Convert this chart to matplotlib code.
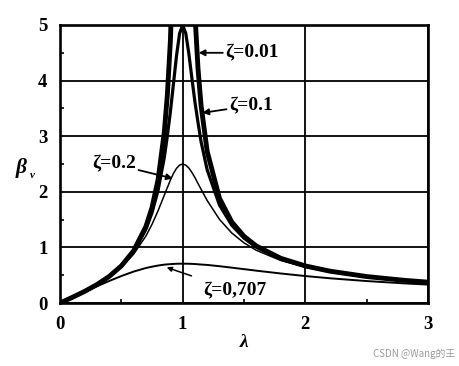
import matplotlib
matplotlib.use("Agg")
import matplotlib.pyplot as plt
from matplotlib.ticker import MultipleLocator

# frequency ratio lambda (sample points)
lam = [0, 0.1, 0.2, 0.3, 0.4, 0.5, 0.6, 0.7, 0.75, 0.8, 0.85, 0.875, 0.9, 0.925,
       0.95, 0.975, 1.0, 1.025, 1.05, 1.075, 1.1, 1.125, 1.15, 1.2, 1.3, 1.4,
       1.5, 1.6, 1.8, 2.0, 2.2, 2.5, 2.8, 3.0]

beta_001 = [0, 0.101, 0.208, 0.330, 0.476, 0.667, 0.938, 1.373, 1.714, 2.222, 3.063,
            3.733, 4.716, 6.355, 9.567, 20.0, 50.0, 20.0, 10.04, 6.843, 5.210, 4.220,
            3.557, 2.727, 1.884, 1.458, 1.200, 1.026, 0.804, 0.667, 0.573, 0.476,
            0.409, 0.375]

beta_01 = [0, 0.101, 0.208, 0.329, 0.474, 0.661, 0.921, 1.324, 1.622, 2.031, 2.612,
           3.000, 3.439, 3.942, 4.448, 4.847, 5.000, 4.854, 4.493, 4.050, 3.617,
           3.250, 2.903, 2.394, 1.763, 1.400, 1.167, 1.005, 0.793, 0.661, 0.569,
           0.474, 0.408, 0.374]

beta_02 = [0, 0.101, 0.208, 0.327, 0.468, 0.644, 0.878, 1.203, 1.414, 1.661, 1.937,
           2.075, 2.211, 2.330, 2.422, 2.480, 2.500, 2.480, 2.429, 2.350, 2.256,
           2.150, 2.047, 1.843, 1.505, 1.260, 1.082, 0.949, 0.765, 0.644, 0.558,
           0.468, 0.404, 0.371]

beta_0707 = [0, 0.100, 0.200, 0.299, 0.395, 0.485, 0.565, 0.629, 0.653, 0.674, 0.690,
             0.695, 0.699, 0.703, 0.706, 0.707, 0.707, 0.707, 0.706, 0.704, 0.701,
             0.697, 0.692, 0.685, 0.662, 0.636, 0.609, 0.582, 0.531, 0.485, 0.445,
             0.395, 0.354, 0.331]

x_ticks = [0, 1, 2, 3]
y_ticks = [0, 1, 2, 3, 4, 5]

serif = ["Liberation Serif", "DejaVu Serif"]

fig = plt.figure(figsize=(4.6, 3.66), dpi=100)
ax = fig.add_axes([0.1304, 0.1721, 0.8, 0.7596])

ax.plot(lam, beta_001, color="black", lw=3.5, solid_joinstyle="round", zorder=5)
ax.plot(lam, beta_01, color="black", lw=2.3, solid_joinstyle="round", zorder=5)
ax.plot(lam, beta_02, color="black", lw=1.1, zorder=5)
ax.plot(lam, beta_0707, color="black", lw=1.4, zorder=5)

ax.set_xlim(0, 3)
ax.set_ylim(0, 5)
ax.set_xticks(x_ticks)
ax.set_yticks(y_ticks)
ax.set_xticklabels([str(v) for v in x_ticks], fontfamily=serif, fontweight="bold", fontsize=13.5)
ax.set_yticklabels([str(v) for v in y_ticks], fontfamily=serif, fontweight="bold", fontsize=13.5)
ax.xaxis.set_minor_locator(MultipleLocator(0.5))
ax.yaxis.set_minor_locator(MultipleLocator(0.5))
ax.tick_params(which="major", length=0, pad=9)
ax.tick_params(which="minor", direction="in", length=3, width=1.2, color="black")

ax.grid(True, which="major", color="black", lw=1.3)
for s in ax.spines.values():
    s.set_linewidth(1.9)
    s.set_zorder(6)

ax.set_xlabel("λ", fontfamily=serif, fontweight="bold", fontstyle="italic",
              fontsize=14, labelpad=1)
ax.text(-0.32, 2.43, "β", fontfamily=serif, fontweight="bold", fontstyle="italic",
        fontsize=15.5, ha="center", va="center")
ax.text(-0.225, 2.30, "v", fontfamily=serif, fontweight="bold", fontstyle="italic",
        fontsize=8, ha="center", va="center")

arrow = dict(arrowstyle="-|>", color="black", lw=1.3, mutation_scale=9,
             shrinkA=0, shrinkB=0)
fs = 14
ax.annotate("ζ=0.01", xy=(1.13, 4.5), xytext=(1.35, 4.5), fontfamily=serif,
            fontweight="bold", fontsize=fs, va="center", ha="left",
            arrowprops=arrow)
ax.annotate("ζ=0.1", xy=(1.16, 3.42), xytext=(1.38, 3.55), fontfamily=serif,
            fontweight="bold", fontsize=fs, va="center", ha="left",
            arrowprops=arrow)
ax.annotate("ζ=0.2", xy=(0.92, 2.24), xytext=(0.26, 2.5), fontfamily=serif,
            fontweight="bold", fontsize=fs, va="center", ha="left",
            arrowprops=arrow)
ax.annotate("ζ=0,707", xy=(0.87, 0.64), xytext=(1.17, 0.22), fontfamily=serif,
            fontweight="bold", fontsize=fs, va="center", ha="left",
            arrowprops=dict(arrowstyle="-|>", color="black", lw=1.1,
                            mutation_scale=7, shrinkA=8, shrinkB=0))

fig.text(0.99, 0.02, "CSDN @Wang的王", fontsize=7, color="#9a9a9a",
         ha="right", va="bottom", family=["Noto Sans CJK SC", "DejaVu Sans"])

fig.savefig("out.png", dpi=100)
